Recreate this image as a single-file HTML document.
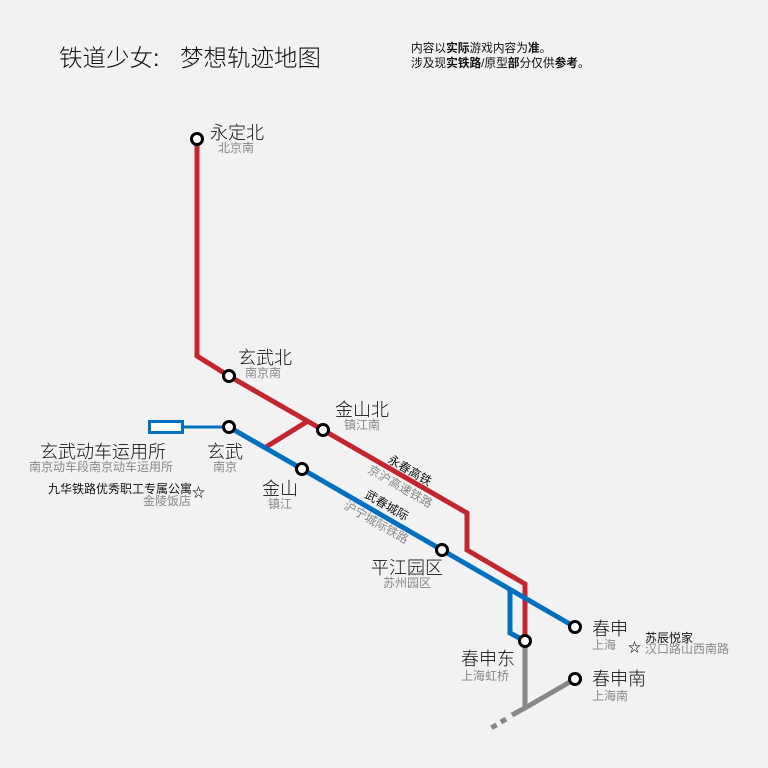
<!DOCTYPE html>
<html><head><meta charset="utf-8"><style>
html,body{margin:0;padding:0;background:#f2f2f2;}
svg{display:block;}
text{font-family:"Liberation Sans","Noto Sans CJK SC",sans-serif;}
</style></head><body>
<svg width="768" height="768" viewBox="0 0 768 768" xmlns="http://www.w3.org/2000/svg">
<rect width="768" height="768" fill="#f2f2f2"/>
<text x="59" y="66" font-size="23.5" fill="#111" font-weight="300">铁道少女:</text>
<text x="180" y="66" font-size="23.5" fill="#111" font-weight="300">梦想轨迹地图</text>
<text x="411" y="52" font-size="11.7" fill="#111">内容以<tspan font-weight="bold">实际</tspan>游戏内容为<tspan font-weight="bold">准</tspan>。</text>
<text x="411" y="67" font-size="11.7" fill="#111">涉及现<tspan font-weight="bold">实铁路</tspan>/原型<tspan font-weight="bold">部</tspan>分仅供<tspan font-weight="bold">参考</tspan>。</text>

<g stroke="#888" stroke-width="5" fill="none">
<polyline points="525,641 525,708"/>
<polyline points="575,679 525,708 512,715"/>
<line x1="506" y1="719" x2="488" y2="730" stroke-dasharray="6,5"/>
</g>
<g stroke="#c4262e" stroke-width="5" fill="none" stroke-linejoin="miter">
<polyline points="197,139 197,356 229,376 323,430 467,513 467,550 525,584 525,641"/>
<polyline points="266,447 308,421"/>
</g>
<g stroke="#0070c0" fill="none">
<rect x="149.5" y="421.5" width="33" height="11" stroke-width="3" fill="#fff"/>
<line x1="183" y1="427" x2="229" y2="427" stroke-width="3"/>
<polyline points="229,427 302,469 442,550 575,627" stroke-width="5"/>
<polyline points="510,590 510,633 525,641" stroke-width="5"/>
</g>
<g fill="#fff" stroke="#000" stroke-width="3">
<circle cx="197" cy="139" r="5.5"/>
<circle cx="229" cy="376" r="5.5"/>
<circle cx="323" cy="430" r="5.5"/>
<circle cx="229" cy="427" r="5.5"/>
<circle cx="302" cy="469" r="5.5"/>
<circle cx="442" cy="550" r="5.5"/>
<circle cx="575" cy="627" r="5.5"/>
<circle cx="525" cy="641" r="5.5"/>
<circle cx="575" cy="679" r="5.5"/>
</g>
<g font-size="18" fill="#111" font-weight="300">
<text x="210" y="139">永定北</text>
<text x="238" y="364">玄武北</text>
<text x="335" y="416">金山北</text>
<text x="207" y="458">玄武</text>
<text x="262" y="495">金山</text>
<text x="371" y="574">平江园区</text>
<text x="592" y="635">春申</text>
<text x="461" y="665">春申东</text>
<text x="592" y="685">春申南</text>
<text x="40" y="458">玄武动车运用所</text>
</g>
<g font-size="12" fill="#888">
<text x="218" y="152">北京南</text>
<text x="245" y="377">南京南</text>
<text x="344" y="429">镇江南</text>
<text x="213" y="471">南京</text>
<text x="268" y="508">镇江</text>
<text x="383" y="587">苏州园区</text>
<text x="592" y="649">上海</text>
<text x="461" y="680">上海虹桥</text>
<text x="592" y="700">上海南</text>
<text x="29" y="471">南京动车段南京动车运用所</text>
<text x="143" y="505">金陵饭店</text>
<text x="645" y="653">汉口路山西南路</text>
</g>
<text x="48" y="493" font-size="12" fill="#111">九华铁路优秀职工专属公寓</text>
<text x="192" y="497" font-size="13" fill="#111" font-weight="bold">☆</text>
<text x="645" y="642" font-size="12" fill="#111">苏辰悦家</text>
<text x="628" y="652" font-size="13" fill="#111" font-weight="bold">☆</text>
<g font-size="12">
<text transform="translate(387,462) rotate(30)" fill="#111">永春高铁</text>
<text transform="translate(367,472) rotate(30)" fill="#888">京沪高速铁路</text>
<text transform="translate(364,497) rotate(30)" fill="#111">武春城际</text>
<text transform="translate(343,508) rotate(30)" fill="#888">沪宁城际铁路</text>
</g>
</svg>
</body></html>
